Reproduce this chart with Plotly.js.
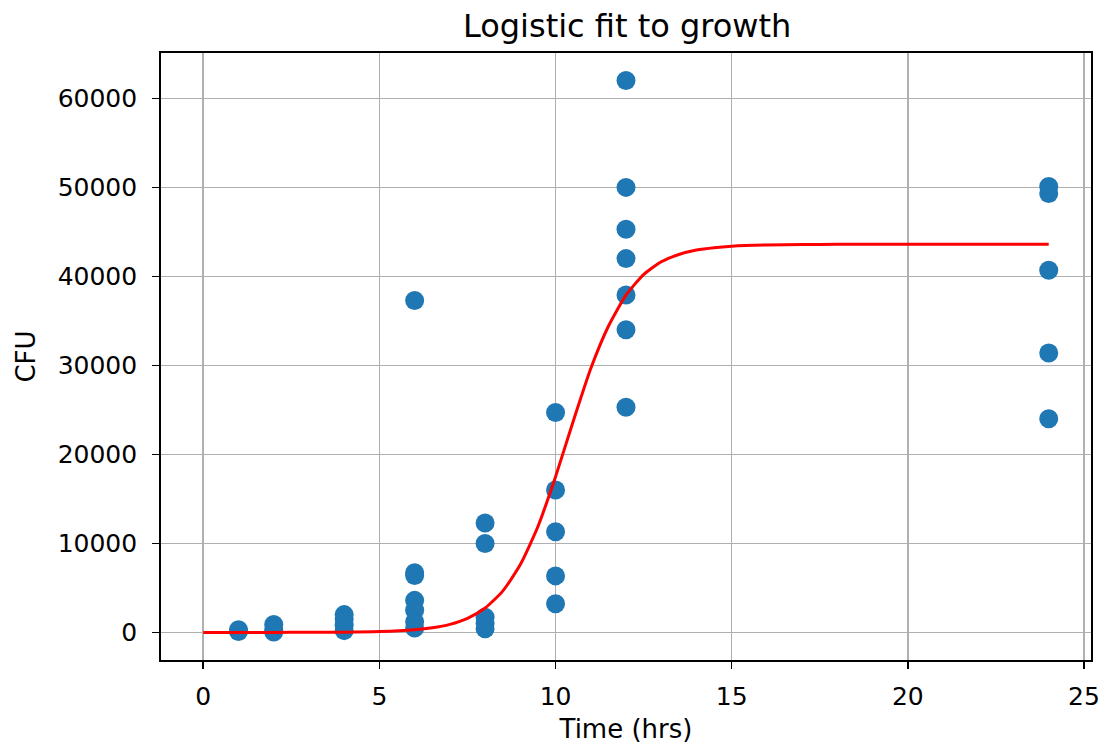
<!DOCTYPE html>
<html>
<head>
<meta charset="utf-8">
<script src="https://cdn.plot.ly/plotly-3.0.1.min.js"></script>
<style>html,body{margin:0;padding:0;background:#fff;}#chart{width:1110px;height:750px;}</style>
</head>
<body>
<div id="chart"></div>
<script>
// Observed CFU counts (time in hrs)
const obsTime = [1, 1, 2, 2, 2, 4, 4, 4, 4,
  6, 6, 6, 6, 6, 6, 6,
  8, 8, 8, 8, 8,
  10, 10, 10, 10, 10,
  12, 12, 12, 12, 12, 12, 12,
  24, 24, 24, 24, 24];
const obsCFU = [100, 300, 900, 300, 50, 2000, 1500, 800, 200,
  37300, 6700, 6400, 3600, 2500, 1200, 500,
  12300, 10000, 1700, 1000, 400,
  24700, 16000, 11300, 6350, 3230,
  62000, 50000, 45300, 42000, 37900, 34000, 25300,
  50100, 49300, 40700, 31400, 24000];

// Fitted logistic curve
const fitTime = [0, 1, 2, 3, 4, 5, 6, 6.5, 7, 7.5, 8, 8.5, 9, 9.5, 10, 10.5, 11, 11.5, 12, 12.5, 13, 13.5, 14, 14.5, 15, 16, 17, 18, 19, 20, 21, 22, 23, 24];
const fitCFU = [0, 0, 3, 9, 29, 93, 292, 515, 908, 1585, 2740, 4640, 7630, 11900, 17500, 23700, 29650, 34400, 37900, 40200, 41640, 42460, 42960, 43230, 43390, 43530, 43580, 43600, 43600, 43600, 43600, 43600, 43600, 43600];

const xTicks = [0, 5, 10, 15, 20, 25];
const yTicks = [0, 10000, 20000, 30000, 40000, 50000, 60000];

const font = {family: 'DejaVu Sans, sans-serif', color: '#000'};

const traces = [
  {x: obsTime, y: obsCFU, type: 'scatter', mode: 'markers',
   marker: {color: '#1f77b4', size: 19}, showlegend: false, cliponaxis: false},
  {x: fitTime, y: fitCFU, type: 'scatter', mode: 'lines',
   line: {color: '#ff0000', width: 3, shape: 'spline', smoothing: 0.6}, showlegend: false}
];

const axisCommon = {
  showgrid: true, gridcolor: '#b0b0b0', gridwidth: 1.6,
  zeroline: false, showline: true, linecolor: '#000', linewidth: 1.8, mirror: true,
  ticks: 'outside', ticklen: 7, tickwidth: 1.6, tickcolor: '#000',
  tickfont: {family: font.family, size: 25, color: '#000'}
};

const layout = {
  width: 1110, height: 750,
  paper_bgcolor: '#fff', plot_bgcolor: '#fff',
  margin: {l: 161, r: 19, t: 53, b: 90},
  title: {text: 'Logistic fit to growth', font: {family: font.family, size: 32, color: '#000'},
          x: 0.565, xanchor: 'center', y: 0.965, yanchor: 'middle'},
  xaxis: Object.assign({}, axisCommon, {
    range: [-1.2, 25.2], tickvals: xTicks, ticktext: xTicks.map(String),
    ticklabelstandoff: 6,
    title: {text: 'Time (hrs)', font: {family: font.family, size: 26, color: '#000'}, standoff: 10}
  }),
  yaxis: Object.assign({}, axisCommon, {
    range: [-3100, 65100], tickvals: yTicks, ticktext: yTicks.map(String),
    ticklabelstandoff: 10,
    title: {text: 'CFU', font: {family: font.family, size: 26, color: '#000'}, standoff: 14}
  })
};

Plotly.newPlot('chart', traces, layout, {displayModeBar: false, staticPlot: true});
</script>
</body>
</html>
